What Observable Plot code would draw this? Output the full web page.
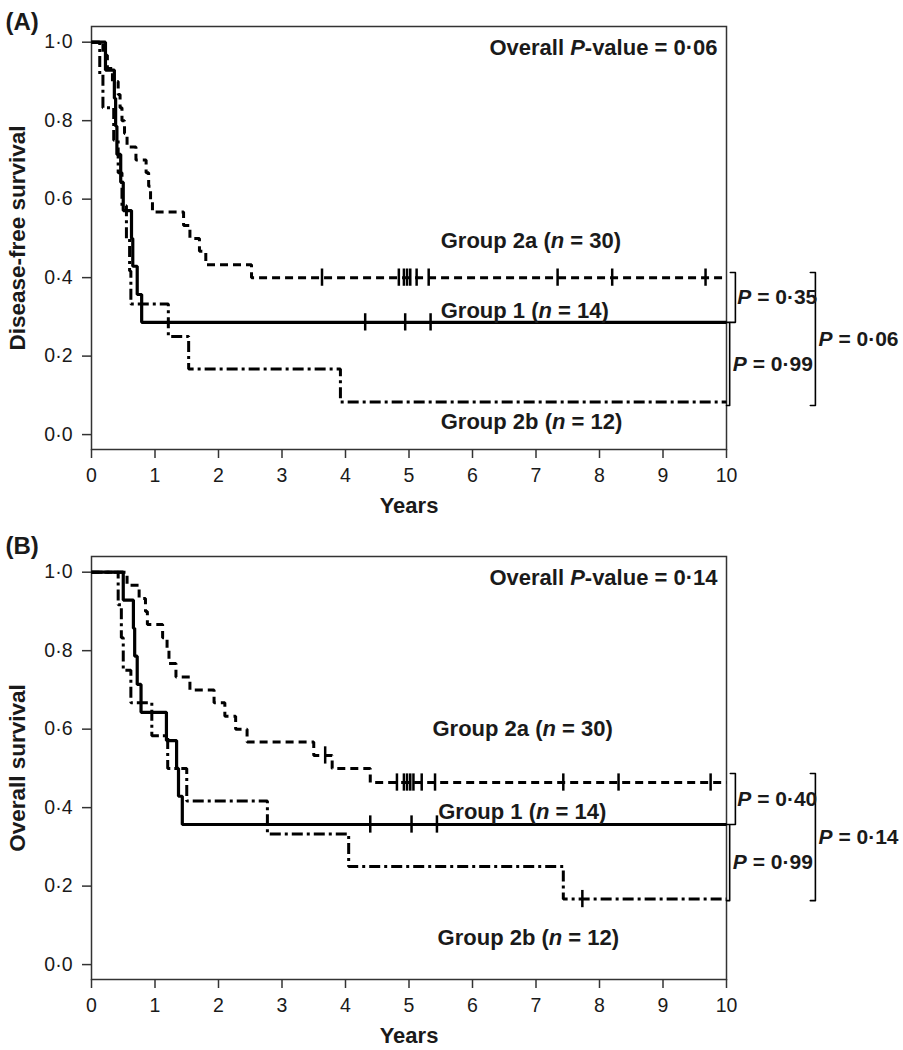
<!DOCTYPE html>
<html><head><meta charset="utf-8">
<script src="https://cdn.jsdelivr.net/npm/d3@7"></script>
<script src="https://cdn.jsdelivr.net/npm/@observablehq/plot@0.6"></script>
<style>
body{margin:0;background:#fff;}
#chart svg{display:block;}
</style></head><body><div id="chart"></div>
<script>
// ---------- data ----------
const yTicks = [0, 0.2, 0.4, 0.6, 0.8, 1.0];
const xTicks = [0, 1, 2, 3, 4, 5, 6, 7, 8, 9, 10];
const groupNames = ["Group 1", "Group 2a", "Group 2b"];
const groupN = [14, 30, 12];

// (A) Disease-free survival
const dfsG1Time = [0, 0.22, 0.36, 0.38, 0.40, 0.46, 0.50, 0.63, 0.65, 0.72, 0.79, 10];
const dfsG1Surv = [1, 0.929, 0.857, 0.786, 0.714, 0.643, 0.571, 0.5, 0.429, 0.357, 0.286, 0.286];
const dfsG1Cens = [4.31, 4.94, 5.34];

const dfsG2aTime = [0, 0.18, 0.25, 0.33, 0.42, 0.45, 0.48, 0.52, 0.56, 0.70, 0.86, 0.90, 0.93, 0.96, 1.45, 1.55, 1.70, 1.80, 2.52, 10];
const dfsG2aSurv = [1, 0.967, 0.933, 0.9, 0.867, 0.833, 0.8, 0.767, 0.733, 0.7, 0.667, 0.633, 0.6, 0.567, 0.533, 0.5, 0.467, 0.433, 0.4, 0.4];
const dfsG2aCens = [3.63, 4.84, 4.92, 4.97, 5.02, 5.12, 5.31, 7.34, 8.2, 9.67];

const dfsG2bTime = [0, 0.13, 0.18, 0.35, 0.42, 0.48, 0.55, 0.60, 0.62, 1.21, 1.53, 3.92, 10];
const dfsG2bSurv = [1, 0.917, 0.833, 0.75, 0.667, 0.583, 0.5, 0.417, 0.333, 0.25, 0.167, 0.083, 0.083];
const dfsG2bCens = [];

const dfsPairP = ["0·35", "0·99"];
const dfsOverallP = "0·06";

// (B) Overall survival
const osG1Time = [0, 0.50, 0.66, 0.68, 0.72, 0.78, 1.18, 1.34, 1.37, 1.43, 10];
const osG1Surv = [1, 0.929, 0.857, 0.786, 0.714, 0.643, 0.571, 0.5, 0.429, 0.357, 0.357];
const osG1Cens = [4.39, 5.04, 5.44];

const osG2aTime = [0, 0.56, 0.75, 0.85, 0.88, 1.12, 1.19, 1.22, 1.33, 1.55, 1.93, 2.10, 2.27, 2.45, 3.50, 3.79, 4.39, 10];
const osG2aSurv = [1, 0.967, 0.933, 0.9, 0.867, 0.833, 0.8, 0.767, 0.733, 0.7, 0.667, 0.633, 0.6, 0.567, 0.533, 0.5, 0.464, 0.464];
const osG2aCens = [3.68, 4.81, 4.92, 4.97, 5.02, 5.07, 5.2, 5.41, 7.43, 8.3, 9.75];

const osG2bTime = [0, 0.42, 0.47, 0.50, 0.62, 0.95, 1.20, 1.50, 2.77, 4.05, 7.43, 10];
const osG2bSurv = [1, 0.917, 0.833, 0.75, 0.667, 0.583, 0.5, 0.417, 0.333, 0.25, 0.167, 0.167];
const osG2bCens = [7.73];

const osPairP = ["0·40", "0·99"];
const osOverallP = "0·14";

// ---------- drawing ----------
const FONT = "'Liberation Sans', Arial, Helvetica, sans-serif";
const INK = "#1a1a1a";
const STYLES = [
  {strokeWidth: 3.2, strokeDasharray: null},
  {strokeWidth: 3, strokeDasharray: "8,5"},
  {strokeWidth: 3, strokeDasharray: "11,4,3,4"}
];
const CT = 0.022; // half-height of censor tick in survival units
const fmt = d => d3.format(".1f")(d).replace(".", "·");

function survAt(time, surv, t) {
  const i = d3.bisectRight(time, t) - 1;
  return surv[Math.max(0, i)];
}

function italicize(svg) {
  d3.select(svg).selectAll("text").each(function () {
    const t = this.textContent;
    if (/\(n = |P = |P-value/.test(t)) {
      const html = t.replace(/&/g, "&amp;").replace(/</g, "&lt;")
        .replace(/\bn(?= =)/g, '<tspan font-style="italic">n</tspan>')
        .replace(/\bP(?=( =|-value))/g, '<tspan font-style="italic">P</tspan>');
      this.innerHTML = html;
    }
  });
}

function panel(cfg) {
  const series = cfg.series.map((s, k) => ({...s, k}));
  const steps = series.flatMap(s => s.time.map((t, i) => ({k: s.k, t, s: s.surv[i]})));
  const cens = series.flatMap(s => s.cens.map(t => ({k: s.k, t, s: survAt(s.time, s.surv, t)})));
  const last = series.map(s => s.surv[s.surv.length - 1]);
  const [g1, g2a, g2b] = last;

  const topY = g2a + cfg.bracketPadTop;
  const midY = g1;
  const botY = g2b - cfg.bracketPadBot;
  const brackets = [
    {id: "a", x0: 10.06, x1: 10.14, y0: topY, y1: midY},
    {id: "b", x0: 10.0, x1: 10.05, y0: midY, y1: botY},
    {id: "c", x0: 11.32, x1: 11.40, y0: topY, y1: botY}
  ].flatMap(b => [
    {id: b.id, x: b.x0, y: b.y0}, {id: b.id, x: b.x1, y: b.y0},
    {id: b.id, x: b.x1, y: b.y1}, {id: b.id, x: b.x0, y: b.y1}
  ]);
  const pLabels = [
    {x: 10.17, y: (topY + midY) / 2, text: `P = ${cfg.pairP[0]}`},
    {x: 10.10, y: (midY + botY) / 2, text: `P = ${cfg.pairP[1]}`},
    {x: 11.45, y: (topY + botY) / 2, text: `P = ${cfg.overallP}`}
  ];
  const groupLabels = cfg.labelPos.map((p, k) => ({
    x: p[0], y: p[1], text: `${groupNames[k]} (n = ${groupN[k]})`
  }));

  const marks = [
    Plot.frame({stroke: "#333", strokeWidth: 1.5}),
    Plot.axisY({ticks: yTicks, tickFormat: fmt, tickSize: 9, tickPadding: 10, fontSize: 19.5, label: null, stroke: "#333", strokeWidth: 1.5, fill: INK}),
    Plot.axisX({ticks: xTicks, tickSize: 9, tickPadding: 10, fontSize: 19.5, label: null, stroke: "#333", strokeWidth: 1.5, fill: INK}),
    ...series.map(s => Plot.line(steps.filter(d => d.k === s.k), {
      x: "t", y: "s", curve: "step-after", stroke: "black",
      strokeWidth: STYLES[s.k].strokeWidth, strokeDasharray: STYLES[s.k].strokeDasharray,
      strokeLinecap: "butt", strokeLinejoin: "miter"
    })),
    Plot.ruleX(cens, {x: "t", y1: d => d.s - CT, y2: d => d.s + CT, stroke: "black", strokeWidth: 2.5}),
    Plot.line(brackets, {x: "x", y: "y", z: "id", stroke: "black", strokeWidth: 1.6}),
    Plot.text(pLabels, {x: "x", y: "y", text: "text", textAnchor: "start", lineAnchor: "middle", fontSize: 21, fontWeight: "bold", fill: INK}),
    Plot.text(groupLabels, {x: "x", y: "y", text: "text", textAnchor: "start", lineAnchor: "middle", fontSize: 22, fontWeight: "bold", fill: INK}),
    Plot.text([`Overall P-value = ${cfg.overallP}`], {text: d => d, frameAnchor: "top-right", textAnchor: "end", lineAnchor: "middle", dx: -9, dy: cfg.overallDy, fontSize: 22, fontWeight: "bold", fill: INK}),
    Plot.text([cfg.tag], {text: d => d, frameAnchor: "top-left", textAnchor: "start", lineAnchor: "middle", dx: -86, dy: cfg.tagDy, fontSize: 24, fontWeight: "bold", fill: INK}),
    Plot.text([cfg.yTitle], {text: d => d, frameAnchor: "left", rotate: -90, textAnchor: "middle", lineAnchor: "middle", dx: -74, fontSize: 22.5, fontWeight: "bold", fill: INK}),
    Plot.text(["Years"], {text: d => d, frameAnchor: "bottom", textAnchor: "middle", lineAnchor: "middle", dy: 56, fontSize: 22, fontWeight: "bold", fill: INK})
  ];

  const svg = Plot.plot({
    width: 903,
    height: cfg.height,
    marginLeft: 91,
    marginRight: 177,
    marginTop: cfg.marginTop,
    marginBottom: cfg.marginBottom,
    x: {domain: [0, 10]},
    y: {domain: [-0.038, 1.04]},
    style: {fontFamily: FONT, color: INK, background: "white", overflow: "visible"},
    marks
  });
  italicize(svg);
  return svg;
}

const chart = document.getElementById("chart");
chart.appendChild(panel({
  tag: "(A)", tagDy: -4.5, yTitle: "Disease-free survival",
  height: 522, marginTop: 26, marginBottom: 73, overallDy: 21,
  series: [
    {time: dfsG1Time, surv: dfsG1Surv, cens: dfsG1Cens},
    {time: dfsG2aTime, surv: dfsG2aSurv, cens: dfsG2aCens},
    {time: dfsG2bTime, surv: dfsG2bSurv, cens: dfsG2bCens}
  ],
  bracketPadTop: 0.013, bracketPadBot: 0.009,
  pairP: dfsPairP, overallP: dfsOverallP,
  labelPos: [[5.5, 0.316], [5.5, 0.494], [5.5, 0.031]]
}));
chart.appendChild(panel({
  tag: "(B)", tagDy: -10, yTitle: "Overall survival",
  height: 528, marginTop: 34, marginBottom: 71, overallDy: 21,
  series: [
    {time: osG1Time, surv: osG1Surv, cens: osG1Cens},
    {time: osG2aTime, surv: osG2aSurv, cens: osG2aCens},
    {time: osG2bTime, surv: osG2bSurv, cens: osG2bCens}
  ],
  bracketPadTop: 0.023, bracketPadBot: 0.004,
  pairP: osPairP, overallP: osOverallP,
  labelPos: [[5.46, 0.388], [5.37, 0.6], [5.45, 0.067]]
}));
</script></body></html>
